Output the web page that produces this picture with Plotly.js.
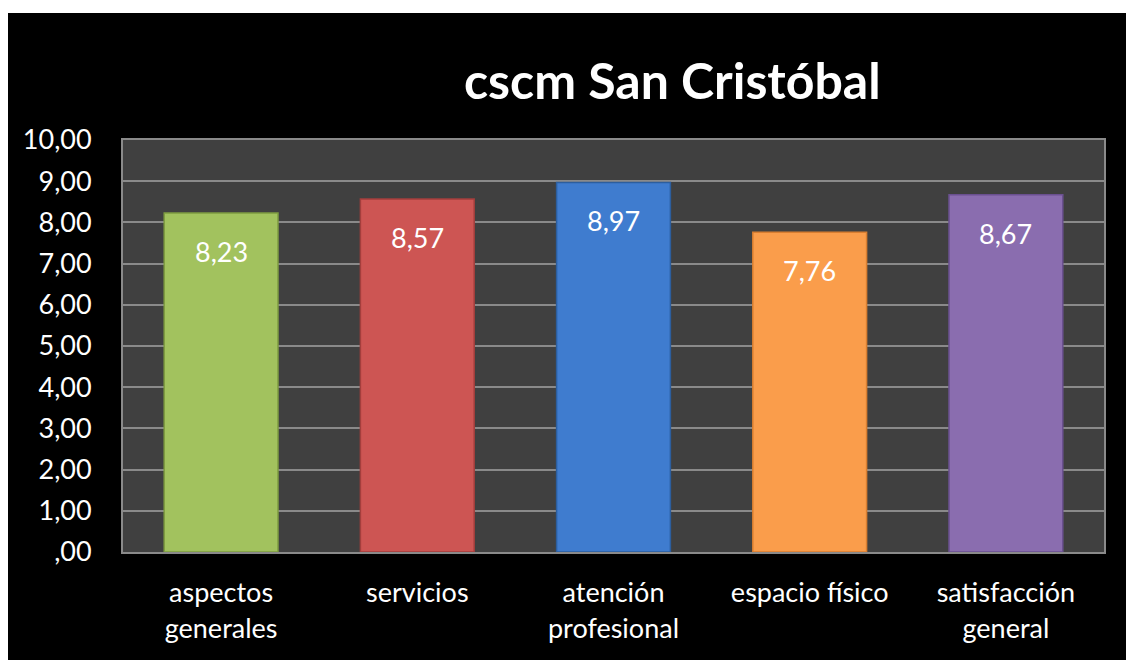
<!DOCTYPE html>
<html><head><meta charset="utf-8">
<script src="https://cdn.plot.ly/plotly-3.0.1.min.js"></script>
<style>
html,body{margin:0;padding:0;background:#ffffff;width:1126px;height:660px;overflow:hidden;}
#chart{position:absolute;left:8px;top:13px;width:1118px;height:647px;}
</style></head>
<body><div id="chart"></div>
<script>
const categories = ["aspectos<br>generales", "servicios", "atención<br>profesional", "espacio físico", "satisfacción<br>general"];
const values = [8.23, 8.57, 8.97, 7.76, 8.67];
const valueLabels = ["8,23", "8,57", "8,97", "7,76", "8,67"];
const barColors = ["#A2C25E", "#CD5553", "#3F7CCF", "#FA9D4B", "#8A6DAF"];
const edgeColors = ["#7E9C40", "#A33E3C", "#2C5E9E", "#D97E30", "#6A5090"];
const yTickVals = [0,1,2,3,4,5,6,7,8,9,10];
const yTickText = [",00","1,00","2,00","3,00","4,00","5,00","6,00","7,00","8,00","9,00","10,00"];

const FONT = "Lato, 'Open Sans', sans-serif";

const trace = {
  type: "bar",
  x: categories,
  y: values,
  marker: {color: barColors, line: {color: edgeColors, width: 1.5}},
  hoverinfo: "none"
};

const annotations = categories.map((c, i) => ({
  x: c, y: values[i], xref: "x", yref: "y",
  text: valueLabels[i], showarrow: false, yanchor: "top", yshift: -20,
  font: {family: FONT, size: 27, color: "#ffffff"}
}));
annotations.push({
  xref: "paper", yref: "paper", x: 0.56, y: 1.146, xanchor: "center", yanchor: "middle",
  text: "<b>cscm San Cristóbal</b>", showarrow: false,
  font: {family: FONT, size: 50, color: "#ffffff"}
});

const layout = {
  width: 1118, height: 647,
  paper_bgcolor: "#000000",
  plot_bgcolor: "#404040",
  margin: {l: 115, r: 22, t: 127, b: 108},
  showlegend: false,
  bargap: 0.42,
  font: {family: FONT, color: "#ffffff", size: 27},
  xaxis: {
    type: "category",
    showgrid: false, zeroline: false,
    showline: true, linecolor: "#8a8a8a", linewidth: 2, mirror: true,
    ticks: "", ticklabelstandoff: 16,
    tickfont: {family: FONT, size: 27, color: "#ffffff"}
  },
  yaxis: {
    range: [0, 10], autorange: false,
    tickvals: yTickVals, ticktext: yTickText,
    showgrid: true, gridcolor: "#8a8a8a", gridwidth: 2,
    zeroline: false,
    showline: true, linecolor: "#8a8a8a", linewidth: 2, mirror: true,
    ticks: "", ticklabelstandoff: 24,
    tickfont: {family: FONT, size: 27, color: "#ffffff"}
  },
  annotations: annotations
};

Plotly.newPlot("chart", [trace], layout, {displayModeBar: false, staticPlot: true});
</script></body></html>
